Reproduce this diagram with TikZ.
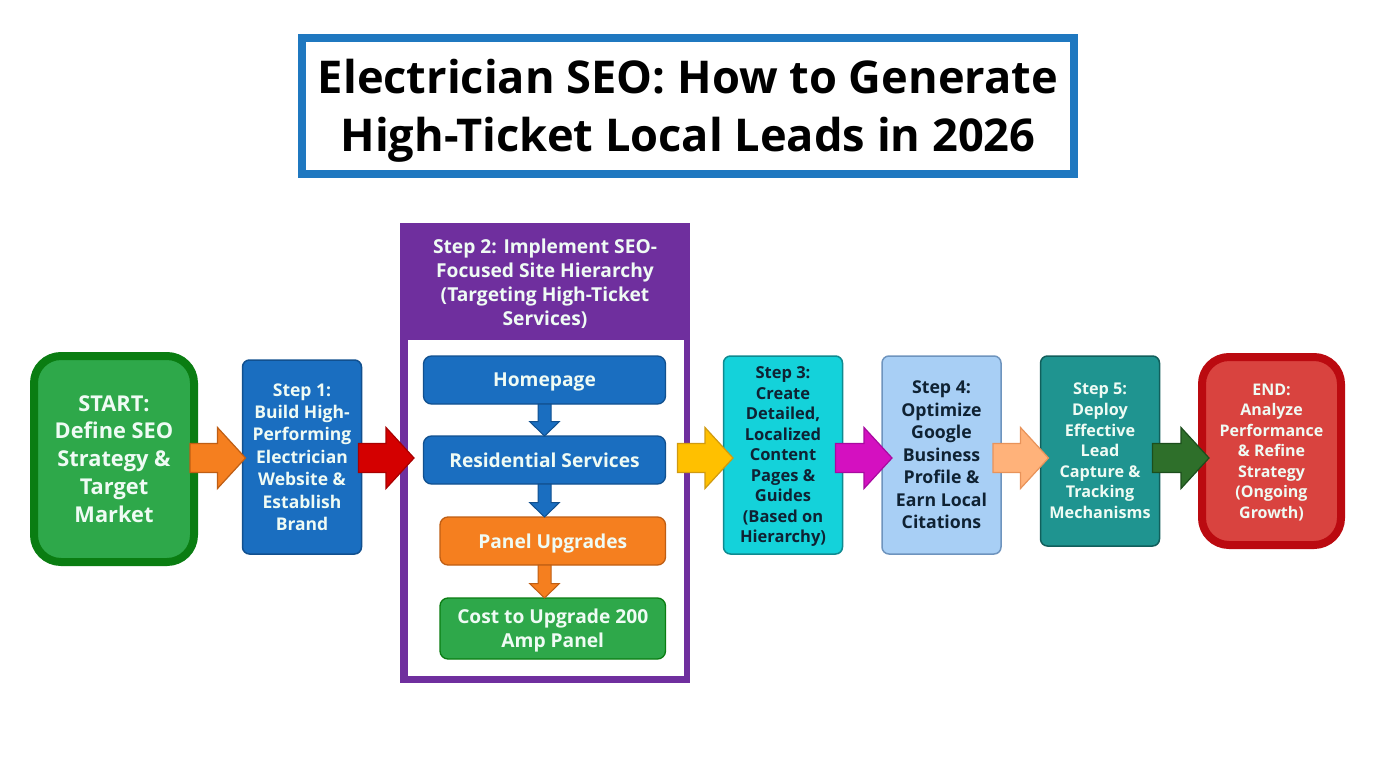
\documentclass[tikz,border=0pt]{standalone}
\usepackage{fontspec}
\setmainfont{Open Sans}
\usetikzlibrary{calc,positioning}
\definecolor{startgreen}{HTML}{2EA84A}
\definecolor{startedge}{HTML}{0A7D12}
\definecolor{stepblue}{HTML}{1A6EC0}
\definecolor{blueedge}{HTML}{11508F}
\definecolor{stepcyan}{HTML}{14D2DA}
\definecolor{cyanedge}{HTML}{0E8A90}
\definecolor{steppale}{HTML}{A8CFF5}
\definecolor{paleedge}{HTML}{6E94BE}
\definecolor{stepteal}{HTML}{1F9490}
\definecolor{tealedge}{HTML}{115F5C}
\definecolor{endred}{HTML}{D9433F}
\definecolor{endedge}{HTML}{BB0A10}
\definecolor{hierpurple}{HTML}{6F2F9E}
\definecolor{titleblue}{HTML}{1F78C0}
\definecolor{paneorange}{HTML}{F57F1F}
\definecolor{orangeedge}{HTML}{BF5E14}
\definecolor{pageink}{HTML}{0F2233}
\definecolor{softwhite}{HTML}{EFFBF4}
\definecolor{arwred}{HTML}{D40000}
\definecolor{arwrededge}{HTML}{A80000}
\definecolor{arwyellow}{HTML}{FFC000}
\definecolor{arwyellowedge}{HTML}{D09A10}
\definecolor{arwmagenta}{HTML}{D410C0}
\definecolor{arwmagentaedge}{HTML}{A80AA0}
\definecolor{arwpeach}{HTML}{FFB27A}
\definecolor{arwpeachedge}{HTML}{E8935A}
\definecolor{arwgreen}{HTML}{2E6F2A}
\definecolor{arwgreenedge}{HTML}{1C4E1C}
\tikzset{
	arw shaft/.store in=\arwshaft,
	arw shaft=14.5pt,
	arw wing/.store in=\arwwing,
	arw wing=30.5pt,
	arw head/.store in=\arwhead,
	arw head=28pt,
	bigarrow/.style 2 args={draw=#2,fill=#1,line width=1.2pt,miter limit=6,
		to path={
			($(\tikztostart)!\arwshaft!90:(\tikztotarget)$)
			-- ($(\tikztotarget)!\arwhead!(\tikztostart)!\arwshaft!90:(\tikztotarget)$)
			-- ($(\tikztotarget)!\arwhead!(\tikztostart)!\arwwing!90:(\tikztotarget)$)
			-- (\tikztotarget)
			-- ($(\tikztotarget)!\arwhead!(\tikztostart)!\arwwing!-90:(\tikztotarget)$)
			-- ($(\tikztotarget)!\arwhead!(\tikztostart)!\arwshaft!-90:(\tikztotarget)$)
			-- ($(\tikztostart)!\arwshaft!-90:(\tikztotarget)$) -- cycle}},
	smallarrow/.style={arw shaft=6.5pt,arw wing=15pt,arw head=14.5pt,line width=1pt},
	box/.style={align=center,inner sep=0pt,outer sep=0pt,font=\bfseries\fontsize{17.5}{22.4}\selectfont},
	endbox/.style={box,line width=8pt,rounded corners=27pt,text=softwhite},
	stepbox/.style={box,line width=1.5pt,rounded corners=7pt,minimum width=119pt},
	treebox/.style={box,line width=1.3pt,rounded corners=8pt,text=softwhite,text depth=-2pt,font=\bfseries\fontsize{19.2}{24}\selectfont}
}
\begin{document}
\begin{tikzpicture}[x=1pt,y=-1pt]
         \useasboundingbox[fill=white] (0,0) rectangle (1376,768);
         \coordinate (mid) at (0,458);
         \node[box,draw=titleblue,line width=8pt,minimum width=772pt,minimum height=136pt] (title) at (688,106) {};
         \node[box,font=\bfseries\fontsize{45.2}{58}\selectfont,yshift=-4.5pt] (titletext) at (title.center)
             {Electrician SEO: How to Generate\\High-Ticket Local Leads in 2026};
         \node[endbox,draw=startedge,fill=startgreen,minimum width=160pt,minimum height=206pt,
             font=\bfseries\fontsize{21.8}{27.8}\selectfont] (start) at (114,459)
             {START:\\Define SEO\\Strategy \&\\Target\\Market};
         \node[stepbox,draw=blueedge,fill=stepblue,text=softwhite,minimum height=194pt,
             right=48.5pt of start,yshift=2pt] (step1)
             {Step 1:\\Build High-\\Performing\\Electrician\\Website \&\\Establish\\Brand};
         \node[box,fill=hierpurple,minimum width=290pt,minimum height=460pt] (hier) at (545,453) {};
         \node[fill=white,inner sep=0pt,minimum width=276pt,minimum height=336pt] (pane) at (545.5,508) {};
         \node[box,text=softwhite,font=\bfseries\fontsize{19.2}{24}\selectfont] (hiername) at (545,284)
             {Step 2: Implement SEO-\\Focused Site Hierarchy\\(Targeting High-Ticket\\Services)};
         \node[treebox,draw=blueedge,fill=stepblue,minimum width=242pt,minimum height=48pt] (home) at (544.5,380) {Homepage};
         \node[treebox,draw=blueedge,fill=stepblue,minimum width=242pt,minimum height=48pt,below=32pt of home] (resid) {Residential Services};
         \node[treebox,draw=orangeedge,fill=paneorange,minimum width=225.5pt,minimum height=48pt,below=33pt of resid.south east,anchor=north east] (panel) {Panel Upgrades};
         \node[treebox,draw=startedge,fill=startgreen,minimum width=225.5pt,minimum height=61pt,below=33pt of panel] (cost) {Cost to Upgrade 200\\Amp Panel};
         \node[stepbox,draw=cyanedge,fill=stepcyan,text=pageink,minimum height=198pt,text depth=-2pt,
             font=\bfseries\fontsize{16.5}{20.5}\selectfont] (step3) at (783,455)
             {Step 3:\\Create\\Detailed,\\Localized\\Content\\Pages \&\\Guides\\(Based on\\Hierarchy)};
         \node[stepbox,draw=paleedge,fill=steppale,text=pageink,minimum height=198pt,
             font=\bfseries\fontsize{17.7}{22.5}\selectfont,right=39.5pt of step3] (step4)
             {Step 4:\\Optimize\\Google\\Business\\Profile \&\\Earn Local\\Citations};
         \node[stepbox,draw=tealedge,fill=stepteal,text=softwhite,minimum height=190pt,
             font=\bfseries\fontsize{16.2}{20.6}\selectfont,right=39.5pt of step4,yshift=4pt] (step5)
             {Step 5:\\Deploy\\Effective\\Lead\\Capture \&\\Tracking\\Mechanisms};
         \node[endbox,draw=endedge,fill=endred,minimum width=139pt,minimum height=188pt,text depth=-2pt,
             font=\bfseries\fontsize{16}{20.5}\selectfont] (finish) at (1271.5,451)
             {END:\\Analyze\\Performance\\\& Refine\\Strategy\\(Ongoing\\Growth)};
         \draw[bigarrow={paneorange}{orangeedge}] ([xshift=-4pt]start.east |- mid) to ([xshift=3pt]step1.west |- mid);
         \draw[bigarrow={arwred}{arwrededge}] ([xshift=-3pt]step1.east |- mid) to ([xshift=14pt]hier.west |- mid);
         \draw[bigarrow={arwyellow}{arwyellowedge}] ([xshift=-12.5pt]hier.east |- mid) to ([xshift=9.5pt]step3.west |- mid);
         \draw[bigarrow={arwmagenta}{arwmagentaedge}] ([xshift=-7pt]step3.east |- mid) to ([xshift=10pt]step4.west |- mid);
         \draw[bigarrow={arwpeach}{arwpeachedge}] ([xshift=-8pt]step4.east |- mid) to ([xshift=8pt]step5.west |- mid);
         \draw[bigarrow={arwgreen}{arwgreenedge}] ([xshift=-7pt]step5.east |- mid) to ([xshift=7pt]finish.west |- mid);
         \draw[bigarrow={stepblue}{blueedge},smallarrow] (home.south) to (resid.north);
         \draw[bigarrow={stepblue}{blueedge},smallarrow] (resid.south) to (resid.south |- panel.north);
         \draw[bigarrow={paneorange}{orangeedge},smallarrow] (resid.south |- panel.south) to (resid.south |- cost.north);
      \end{tikzpicture}
\end{document}
